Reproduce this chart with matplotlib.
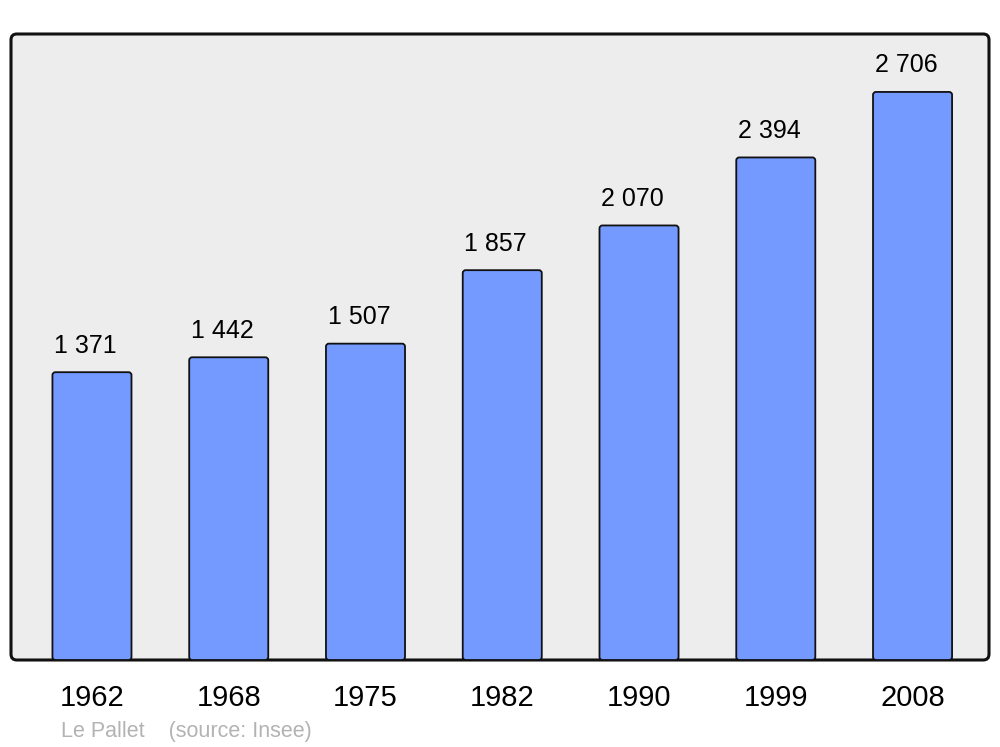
import matplotlib
matplotlib.use("Agg")
import matplotlib.pyplot as plt
from matplotlib.patches import FancyBboxPatch

years = ["1962", "1968", "1975", "1982", "1990", "1999", "2008"]
population = [1371, 1442, 1507, 1857, 2070, 2394, 2706]
labels = ["1 371", "1 442", "1 507", "1 857", "2 070", "2 394", "2 706"]

plt.rcParams['font.family'] = ['Liberation Sans', 'DejaVu Sans']

fig = plt.figure(figsize=(10, 7.47), dpi=100)
ax = fig.add_axes([0.011, 1 - 660 / 747, 0.978, 626 / 747])
ax.set_facecolor('none')

# rounded background frame
bg = FancyBboxPatch((0, 0), 1, 1, boxstyle="round,pad=0,rounding_size=0.006",
                    transform=ax.transAxes, facecolor='#ededed', edgecolor='#111111',
                    linewidth=2.2, zorder=0, clip_on=False, mutation_aspect=978/626)
ax.add_patch(bg)

xmin, xmax, ymax = -0.592, 6.559, 2982
ax.set_xlim(xmin, xmax)
ax.set_ylim(0, ymax)

x = list(range(len(years)))
bars = ax.bar(x, population, width=0.578, color='#7499ff', edgecolor='#111111',
              linewidth=1.3, zorder=2)
# replace with slightly rounded boxes of the same geometry
px_x = (xmax - xmin) / 978.0
px_y = ymax / 626.0
for b in bars:
    b.set_visible(False)
    rb = FancyBboxPatch((b.get_x(), b.get_y()), b.get_width(), b.get_height(),
                        boxstyle=f"round,pad=0,rounding_size={3 * px_x}",
                        mutation_aspect=px_y / px_x,
                        facecolor='#7499ff', edgecolor='#111111', linewidth=1.3, zorder=2)
    ax.add_patch(rb)

for xi, v, lab in zip(x, population, labels):
    ax.annotate(lab, (xi, v), xytext=(-4.7, 14), textcoords='offset points',
                ha='center', va='baseline', fontsize=18, color='black')

for s in ax.spines.values():
    s.set_visible(False)
ax.set_yticks([])
ax.set_xticks(x)
ax.set_xticklabels(years, fontsize=21)
ax.tick_params(axis='x', length=0, pad=17)

fig.text(0.061, 1 - 737 / 747, "Le Pallet    (source: Insee)", fontsize=15.5,
         color='#b3b3b3', ha='left', va='baseline')

fig.savefig("out.png", dpi=100)
